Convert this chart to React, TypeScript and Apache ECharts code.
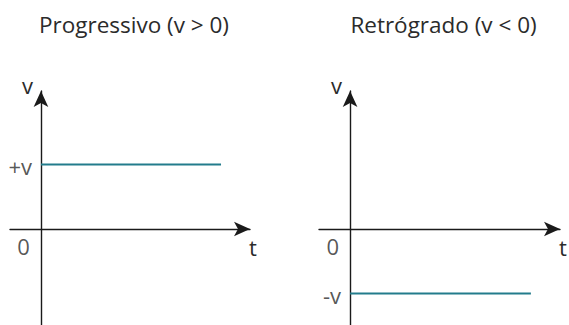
import React, { useEffect, useRef } from "react";
import * as echarts from "echarts";

const panelTitles = ["Progressivo (v > 0)", "Retrógrado (v < 0)"];
const timeValues = [0, 10];
const vProgressivo = [1, 1];
const vRetrogrado = [-1, -1];
const yTickValues = [1, -1];
const yTickLabels = ["+v", "-v"];
const xTickLabel = "0";
const xName = "t";
const yName = "v";

const FONT = "'Open Sans', 'Noto Sans', sans-serif";
const TEXT = "#2b2b2b";
const AXIS = "#1a1a1a";
const LINE = "#237c8c";

export default function App() {
  const ref = useRef<HTMLDivElement>(null);
  useEffect(() => {
    if (!ref.current) return;
    const chart = echarts.init(ref.current, null, { renderer: "svg" });
    const grids = [
      { left: 10, top: 91, width: 240, height: 234, outerBoundsMode: "none", containLabel: false },
      { left: 319, top: 91, width: 241, height: 234, outerBoundsMode: "none", containLabel: false },
    ];
    const seriesData = [vProgressivo, vRetrogrado];
    const xAxes = grids.map((_, i) => ({
      type: "value",
      gridIndex: i,
      min: -1.72,
      max: 11.61,
      name: xName,
      nameLocation: "end",
      nameGap: 3,
      nameTextStyle: {
        fontFamily: FONT,
        fontSize: 22,
        color: TEXT,
        align: "center",
        verticalAlign: "top",
        padding: [7, 0, 0, 0],
      },
      axisLine: {
        onZero: true,
        symbol: ["none", "arrow"],
        symbolSize: [11, 16],
        lineStyle: { color: AXIS, width: 1.4 },
      },
      axisTick: { show: false },
      splitLine: { show: false },
      axisLabel: { show: false },
    }));
    const yAxes = grids.map((_, i) => ({
      type: "value",
      gridIndex: i,
      min: -1.488,
      max: 2.14,
      name: yName,
      nameLocation: "end",
      nameGap: 6,
      nameTextStyle: {
        fontFamily: FONT,
        fontSize: 22,
        color: TEXT,
        align: "right",
        verticalAlign: "middle",
        padding: [0, 8, 0, 0],
      },
      axisLine: {
        onZero: true,
        symbol: ["none", "arrow"],
        symbolSize: [11, 16],
        lineStyle: { color: AXIS, width: 1.4 },
      },
      axisTick: { show: false },
      splitLine: { show: false },
      axisLabel: { show: false },
    }));
    const labelStyle = { fontFamily: FONT, fontSize: 22, color: TEXT };
    const series: any[] = [];
    grids.forEach((_, i) => {
      series.push({
        type: "line",
        xAxisIndex: i,
        yAxisIndex: i,
        data: timeValues.map((t, k) => [t, seriesData[i][k]]),
        showSymbol: false,
        symbol: "none",
        lineStyle: { color: LINE, width: 2 },
        z: 1,
      });
      series.push({
        type: "scatter",
        xAxisIndex: i,
        yAxisIndex: i,
        symbolSize: 0,
        silent: true,
        data: [
          {
            value: [0, yTickValues[i]],
            label: {
              show: true,
              formatter: yTickLabels[i],
              position: [-9, 1],
              align: "right",
              verticalAlign: "middle",
              ...labelStyle,
            },
          },
          {
            value: [0, 0],
            label: {
              show: true,
              formatter: xTickLabel,
              position: [-11, 6],
              align: "right",
              verticalAlign: "top",
              ...labelStyle,
            },
          },
        ],
      });
    });
    chart.setOption({
      animation: false,
      grid: grids,
      xAxis: xAxes,
      yAxis: yAxes,
      series,
      graphic: panelTitles.map((title, i) => ({
        type: "text",
        x: i === 0 ? 134 : 443.5,
        y: 24,
        style: {
          text: title,
          fontFamily: FONT,
          fontSize: 22.5,
          fill: TEXT,
          align: "center",
          verticalAlign: "middle",
        },
      })),
    });
    return () => chart.dispose();
  }, []);
  return (
    <div
      ref={ref}
      style={{ position: "absolute", left: 0, top: 0, width: 569, height: 325, background: "#fff" }}
    />
  );
}
